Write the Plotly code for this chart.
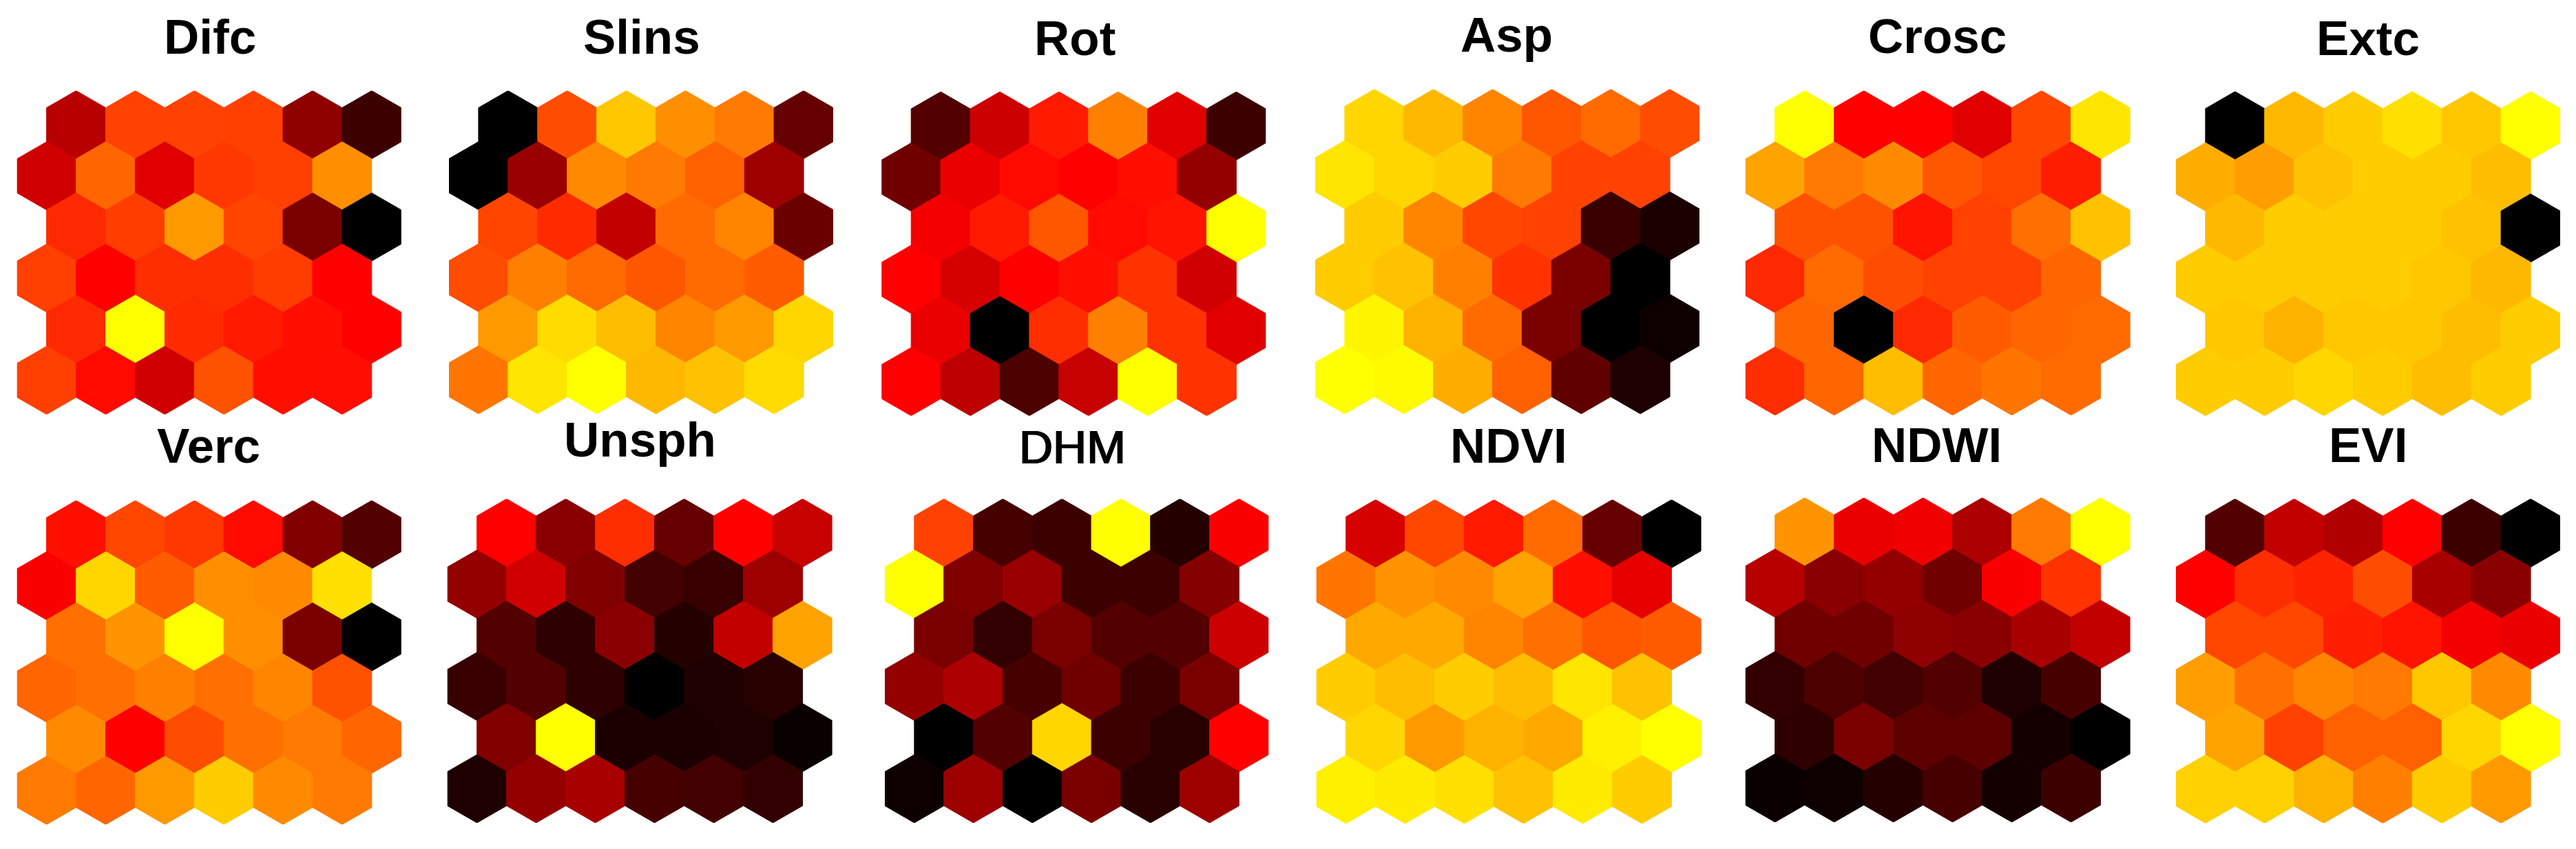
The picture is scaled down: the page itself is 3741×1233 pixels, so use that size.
import numpy as np
import plotly.graph_objects as go
from plotly.colors import sample_colorscale
from plotly.subplots import make_subplots

# codebook values of each SOM map, rows listed top to bottom
Difc = [[.36, .63, .63, .625, .28, .12],
        [.41, .70, .44, .61, .625, .78],
        [.58, .62, .80, .635, .24, 0],
        [.625, .50, .59, .59, .62, .50],
        [.58, 1, .585, .55, .53, .50],
        [.625, .52, .41, .66, .53, .525]]
Slins = [[0, .65, .89, .78, .74, .20],
         [0, .30, .77, .74, .69, .31],
         [.635, .585, .38, .71, .76, .21],
         [.65, .75, .71, .67, .71, .68],
         [.80, .93, .87, .76, .80, .92],
         [.73, .95, 1, .86, .88, .93]]
Rot = [[.16, .40, .55, .75, .44, .12],
       [.22, .46, .52, .50, .53, .29],
       [.48, .55, .67, .52, .54, 1],
       [.50, .42, .50, .53, .60, .41],
       [.46, 0, .59, .75, .60, .44],
       [.50, .37, .15, .39, 1, .60]]
Asp = [[.92, .86, .76, .67, .71, .65],
       [.95, .92, .90, .74, .63, .63],
       [.90, .76, .64, .63, .11, .05],
       [.90, .88, .75, .60, .24, 0],
       [.98, .85, .71, .24, 0, .03],
       [1, .99, .84, .69, .19, .06]]
Crosc = [[1, .50, .50, .44, .64, .95],
         [.82, .74, .77, .67, .64, .56],
         [.66, .66, .54, .63, .72, .88],
         [.58, .71, .65, .63, .63, .70],
         [.70, 0, .58, .68, .70, .71],
         [.59, .70, .87, .70, .73, .71]]
Extc = [[0, .86, .90, .94, .89, 1],
        [.84, .81, .88, .90, .90, .87],
        [.86, .90, .90, .90, .88, 0],
        [.90, .90, .90, .90, .89, .86],
        [.89, .85, .89, .89, .87, .90],
        [.90, .90, .92, .90, .87, .90]]
Verc = [[.53, .64, .61, .52, .25, .16],
        [.49, .92, .68, .78, .77, .94],
        [.72, .79, 1, .78, .24, 0],
        [.70, .72, .75, .72, .76, .66],
        [.77, .50, .65, .72, .74, .70],
        [.74, .70, .80, .90, .77, .74]]
Unsph = [[.50, .27, .59, .20, .50, .39],
         [.29, .41, .25, .13, .11, .31],
         [.16, .09, .27, .07, .38, .82],
         [.11, .16, .09, 0, .06, .08],
         [.25, 1, .05, .05, .06, .02],
         [.06, .29, .33, .14, .13, .10]]
DHM = [[.63, .14, .12, 1, .07, .49],
       [1, .25, .30, .12, .12, .26],
       [.24, .10, .24, .16, .16, .40],
       [.29, .34, .14, .22, .12, .24],
       [0, .16, .92, .12, .08, .50],
       [.03, .31, 0, .24, .08, .31]]
NDVI = [[.42, .64, .55, .71, .20, 0],
        [.73, .79, .77, .82, .53, .45],
        [.83, .83, .76, .72, .67, .68],
        [.90, .87, .90, .87, .95, .88],
        [.92, .80, .85, .83, .97, 1],
        [.97, .96, .94, .88, .96, .90]]
NDWI = [[.79, .46, .47, .34, .74, 1],
        [.36, .27, .29, .22, .49, .60],
        [.22, .22, .28, .27, .33, .38],
        [.10, .15, .13, .16, .06, .14],
        [.09, .24, .18, .18, .04, 0],
        [.02, .03, .07, .14, .04, .12]]
EVI = [[.16, .38, .35, .50, .12, 0],
       [.50, .59, .57, .65, .33, .27],
       [.64, .64, .56, .54, .48, .46],
       [.81, .72, .76, .74, .89, .77],
       [.82, .63, .69, .69, .92, 1],
       [.91, .91, .85, .75, .90, .80]]

names = ["Difc", "Slins", "Rot", "Asp", "Crosc", "Extc",
         "Verc", "Unsph", "DHM", "NDVI", "NDWI", "EVI"]
maps = [Difc, Slins, Rot, Asp, Crosc, Extc, Verc, Unsph, DHM, NDVI, NDWI, EVI]

W, H = 3741, 1233
# panel extents in pixels: left, right, top, bottom
panels = [(24.7, 582.7, 131.7, 601.8), (652, 1210, 131.7, 601),
          (1280.3, 1838.3, 133.3, 603.8), (1910, 2468, 129.7, 601),
          (2534.8, 3093.6, 131.7, 603), (3160, 3718, 132.9, 603.8),
          (24.7, 582.7, 726.9, 1197.4), (649.7, 1208.5, 724.5, 1195),
          (1285, 1842.3, 724.5, 1195), (1911.7, 2470.5, 725.7, 1196),
          (2534.8, 3093.6, 722.9, 1194), (3160, 3718, 724.5, 1195.5)]
# title centre x and baseline y in pixels
title_x = [305, 931.5, 1561, 2188, 2813, 3439, 303, 929.5, 1557.7, 2191, 2812.6, 3438.7]
title_y = [79, 79, 81, 76, 78, 81, 673, 663.6, 673, 673, 671.5, 671.5]

hot = [[0, "#000000"], [0.5, "#ff0000"], [1, "#ffff00"]]
r = 1 / np.sqrt(3)
pitch = np.sqrt(3) / 2
angles = np.radians([90, 30, -30, -90, -150, 150, 90])
hex_x = r * np.cos(angles)
hex_y = r * np.sin(angles)

fig = make_subplots(rows=2, cols=6)

for i, (name, values) in enumerate(zip(names, maps)):
    row_fig, col_fig = i // 6 + 1, i % 6 + 1
    for row, line in enumerate(values):
        up = 5 - row
        for col, v in enumerate(line):
            cx = col + 0.5 * (up % 2)
            cy = up * pitch
            c = sample_colorscale(hot, [v])[0]
            fig.add_trace(go.Scatter(x=cx + hex_x, y=cy + hex_y, mode="lines", fill="toself",
                                     fillcolor=c, line=dict(color=c, width=1),
                                     hoveron="fills", name=name, text=f"{name}: {v}",
                                     showlegend=False), row=row_fig, col=col_fig)

    x0, x1, y0, y1 = panels[i]
    fig.update_xaxes(domain=[x0 / W, x1 / W], range=[-0.5, 6.0], visible=False, row=row_fig, col=col_fig)
    fig.update_yaxes(domain=[1 - y1 / H, 1 - y0 / H], range=[-r, 5 * pitch + r], visible=False,
                     row=row_fig, col=col_fig)

    # DHM is the lighter title in the reference
    title_font = dict(family="Liberation Sans", color="black", size=71, weight="bold")
    if name == "DHM":
        title_font.update(size=68, weight="normal", shadow="1px 0 0 black, -1px 0 0 black")
    fig.add_annotation(text=name, xref="paper", yref="paper", x=title_x[i] / W, y=1 - title_y[i] / H,
                       xanchor="center", yanchor="bottom", yshift=-16, showarrow=False, font=title_font)

fig.update_layout(width=W, height=H, margin=dict(l=0, r=0, t=0, b=0), autosize=False,
                  paper_bgcolor="white", plot_bgcolor="white")

fig.write_html("out.html", config={"displayModeBar": False}, post_script="document.body.style.margin='0';")
